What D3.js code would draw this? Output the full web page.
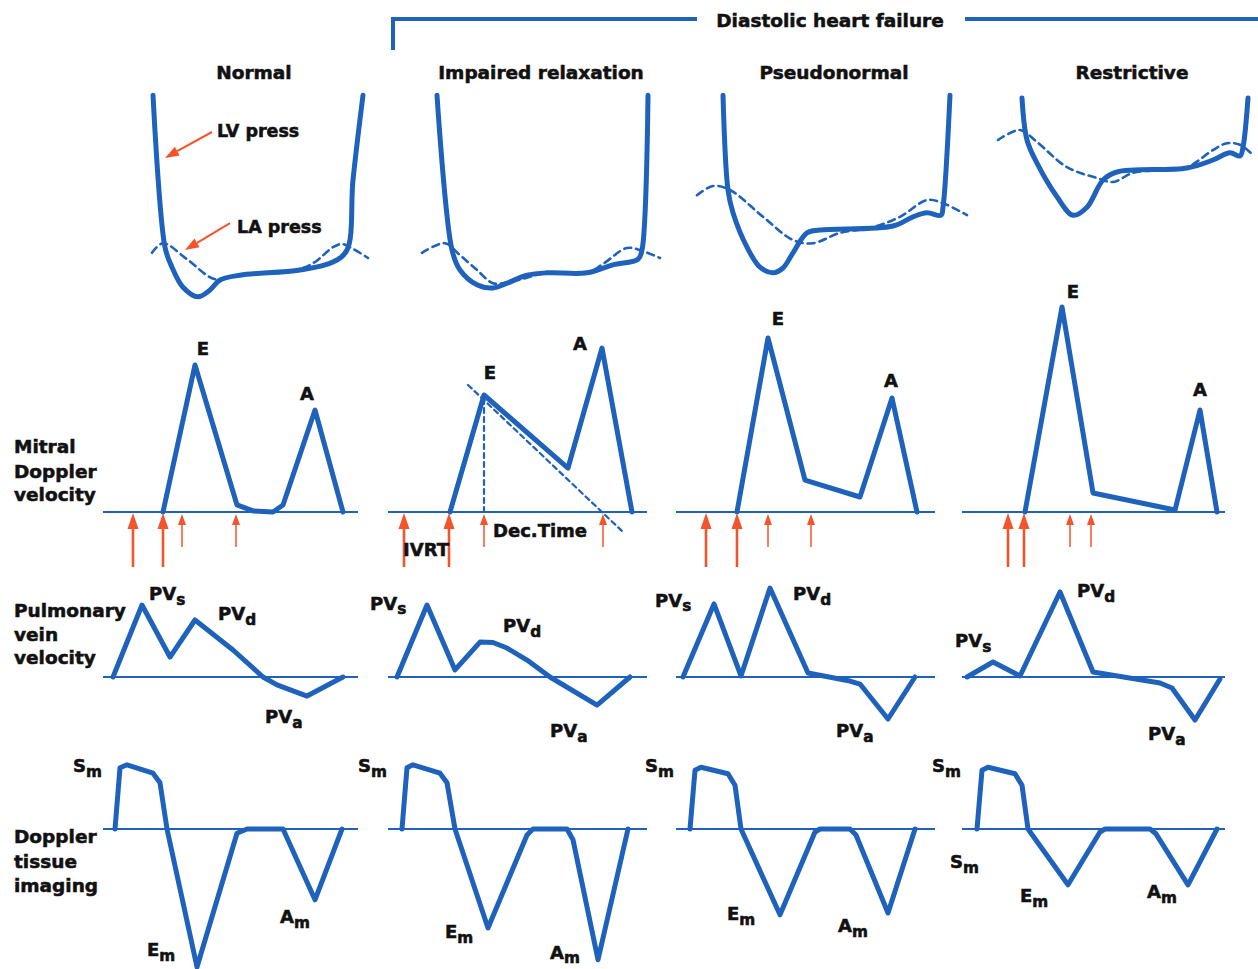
<!DOCTYPE html>
<html><head><meta charset="utf-8">
<script src="https://cdn.jsdelivr.net/npm/d3@7"></script>
<style>
body{margin:0;background:#fff}
text{font-family:"DejaVu Sans",sans-serif;font-weight:bold;fill:#111;stroke:#111;stroke-width:0.55px}
</style>
</head><body>
<svg id="c" width="1258" height="969"></svg>
<script>
// ---------------- DATA ----------------
const header = "Diastolic heart failure";
const columns = ["Normal", "Impaired relaxation", "Pseudonormal", "Restrictive"];
const rowLabels = [
  ["Mitral", "Doppler", "velocity"],
  ["Pulmonary", "vein", "velocity"],
  ["Doppler", "tissue", "imaging"]
];
// baseline time span per column (ms)
const baselineSpan = [[0, 1020], [0, 1036], [0, 1036], [0, 1052]];

// LV pressure [ms, mmHg]
const lvPressure = [
  [[200,25.6],[248,6.6],[276,4.1],[320,1.6],[380,0.4],[428,1.25],[468,2.5],[548,3.1],[788,3.75],[920,4.75],[976,6.25],[1000,15],[1040,25.6]],
  [[196,25.6],[256,6.25],[288,3.75],[356,1.9],[420,1.5],[476,2.1],[556,3.1],[636,3.4],[796,3.4],[900,4.4],[1000,5.1],[1016,6.25],[1040,25.6]],
  [[188,25.6],[208,13.75],[228,10.9],[284,6.6],[336,4.1],[388,3.4],[428,4.0],[468,5.9],[524,8.4],[576,8.75],[868,9.25],[948,10.4],[1004,10.9],[1060,10.6],[1068,11.6],[1096,25.6]],
  [[240,25.25],[260,20],[300,17.1],[380,12.9],[444,10.6],[500,11.6],[564,15],[620,16],[900,16.5],[1004,17.5],[1072,18.4],[1112,18],[1124,19.1],[1144,25.25]]
];
// LA pressure [ms, mmHg]
const laPressure = [
  [[196,5.9],[240,7.1],[336,5.1],[448,2.6],[548,3.1],[788,3.9],[848,4.75],[920,6.6],[956,7.0],[1000,6.4],[1060,5.25]],
  [[136,5.9],[228,7.1],[288,5.6],[356,3.75],[420,2.1],[488,2.25],[636,3.4],[796,3.4],[860,4.5],[956,6.5],[1020,6.1],[1088,5.25]],
  [[84,13.1],[148,14.25],[216,13.75],[348,10.4],[468,7.5],[548,7.1],[656,8.4],[776,9.0],[896,10.4],[1004,12.5],[1068,12.1],[1164,10.6]],
  [[144,20],[232,21.25],[300,19.75],[420,16.6],[540,15.25],[604,14.75],[684,15.9],[792,16.25],[900,16.6],[1004,18.75],[1060,19.6],[1112,19.4],[1164,18.1]]
];

// Mitral Doppler velocity [ms, cm/s]
const mitral = [
  [[240,0],[368,98],[536,4.7],[600,0.7],[680,0],[720,4.7],[848,68],[960,0]],
  [[248,0],[384,78],[720,29.3],[856,109.3],[976,0]],
  [[244,0],[368,116],[516,21.3],[736,10],[864,76],[964,0]],
  [[252,0],[400,136.7],[524,12.7],[852,1.3],[952,68],[1020,0]]
];
const mitralLabels = [
  [["E",400,104.7],["A",816,74.7]],
  [["E",408,88.7],["A",768,108]],
  [["E",408,124.7],["A",860,83.3]],
  [["E",444,142.7],["A",952,77.3]]
];
const bigArrows = [[120,240],[64,244],[120,244],[184,248]];
const smallArrows = [[316,532],[384,860],[368,540],[432,516]];
const decelSlope = [[320,84.7],[940,-13.3]];
const decelVertical = [[384,0],[384,78]];
const impairedNotes = [["IVRT",60,-29.3],["Dec.Time",420,-16.7]];

// Pulmonary vein velocity [ms, cm/s]
const pulmonary = [
  [[40,0],[156,48],[268,13.3],[368,38],[520,18],[640,0],[696,-5.3],[816,-12.7],[960,0]],
  [[36,0],[156,48],[268,4.7],[368,23.3],[420,23],[476,19.3],[556,11.3],[648,0],[836,-18.7],[968,0]],
  [[28,0],[152,48.7],[260,0.7],[376,59.3],[528,2.7],[696,-2.7],[736,-4.7],[848,-28],[956,0]],
  [[20,0],[124,10],[232,0.7],[392,56.7],[524,3.3],[792,-4],[840,-7.3],[932,-28.7],[1032,-1.3]]
];
const pvLabels = [
  [["PV","s",184,51.3],["PV","d",460,38],["PV","a",648,-30.7]],
  [["PV","s",-72,44.7],["PV","d",460,30],["PV","a",648,-40]],
  [["PV","s",-84,46.7],["PV","d",468,51.3],["PV","a",640,-40]],
  [["PV","s",-28,20],["PV","d",460,53.3],["PV","a",744,-42]]
];

// Doppler tissue imaging [ms, cm/s]
const dti = [
  [[48,0],[68,10.2],[96,10.7],[200,9.3],[228,7.7],[256,0],[376,-23],[536,-0.7],[576,0],[720,0],[848,-11.8],[956,0]],
  [[56,0],[76,10.2],[100,10.7],[208,9.3],[236,7.7],[268,0],[400,-16.5],[556,-1],[580,0],[716,0],[740,-1.8],[840,-21.8],[960,0]],
  [[56,0],[76,9.8],[100,10.3],[208,9.2],[236,7.3],[260,0],[416,-14.3],[556,-0.5],[576,0],[696,0],[720,-1],[848,-14],[956,0]],
  [[60,0],[80,9.8],[104,10.3],[212,9.2],[240,7.3],[264,0],[424,-9.3],[552,-0.5],[572,0],[752,0],[776,-0.8],[904,-9.3],[1020,0]]
];
const dtiLabels = [
  [["S","m",-120,9.5],["E","m",176,-21.2],["A","m",708,-15.7]],
  [["S","m",-120,9.5],["E","m",228,-18.2],["A","m",648,-21.6]],
  [["S","m",-124,9.5],["E","m",204,-15.2],["A","m",648,-17.2]],
  [["S","m",-120,9.5],["S","m",-48,-6.5],["E","m",232,-12.2],["A","m",740,-11.5]]
];

// pressure annotations (Normal column) [text, ms, mmHg, arrowFrom, arrowTo]
const pressNotes = [
  ["LV press", 456, 20.4, [436,21], [248,17.75]],
  ["LA press", 536, 8.4, [508,9.6], [328,6.25]]
];

// ---------------- LAYOUT / STYLE ----------------
const BLUE = "#1f62bb", RED = "#f2542d";
const colX0 = [103, 388, 676, 962];
const xs = colX0.map(x0 => d3.scaleLinear().domain([0, 1000]).range([x0, x0 + 250]));
const yP = d3.scaleLinear().domain([0, 25]).range([300, 100]);
const yM = d3.scaleLinear().domain([0, 100]).range([512, 362]);
const yPV = d3.scaleLinear().domain([0, 100]).range([677, 527]);
const yD = d3.scaleLinear().domain([0, 10]).range([829, 769]);

const svg = d3.select("#c");

// header bracket
svg.append("path")
  .attr("d", "M393,50 V19 H697 M965,19 H1258")
  .attr("fill", "none").attr("stroke", BLUE).attr("stroke-width", 4);
svg.append("text").attr("x", 830).attr("y", 27).attr("text-anchor", "middle")
  .attr("font-size", 18.5).text(header);

// column titles
const titleX = [254, 541, 834, 1132];
columns.forEach((c, i) => {
  svg.append("text").attr("x", titleX[i]).attr("y", 79).attr("text-anchor", "middle")
    .attr("font-size", 18.5).text(c);
});

// row labels
const rowLabelBase = [[453, 478, 501], [617, 641, 664], [843, 868, 892]];
rowLabels.forEach((lines, r) => {
  lines.forEach((l, k) => {
    svg.append("text").attr("x", 14).attr("y", rowLabelBase[r][k]).attr("font-size", 18.5).text(l);
  });
});

function drawLine(data, x, y, opts) {
  const gen = d3.line().x(d => x(d[0])).y(d => y(d[1]));
  if (opts.curve) gen.curve(opts.curve);
  svg.append("path").attr("d", gen(data)).attr("fill", "none")
    .attr("stroke", opts.color || BLUE).attr("stroke-width", opts.width)
    .attr("stroke-linejoin", "round").attr("stroke-linecap", "round")
    .attr("stroke-dasharray", opts.dash || null);
}
function baseline(i, y) {
  svg.append("line").attr("x1", xs[i](baselineSpan[i][0])).attr("x2", xs[i](baselineSpan[i][1]))
    .attr("y1", y(0)).attr("y2", y(0)).attr("stroke", BLUE).attr("stroke-width", 2.2);
}
function subLabel(x, y, main, sub, size) {
  const t = svg.append("text").attr("x", x).attr("y", y).attr("font-size", size || 18);
  t.append("tspan").text(main);
  t.append("tspan").attr("dy", 4.5).attr("font-size", (size || 18) * 0.85).text(sub);
}
function upArrow(x, yTail, yTip, big) {
  const hw = big ? 5.5 : 4, hl = big ? 16 : 11;
  svg.append("line").attr("x1", x).attr("x2", x).attr("y1", yTail).attr("y2", yTip + hl - 1)
    .attr("stroke", RED).attr("stroke-width", big ? 2.6 : 1.5);
  svg.append("path").attr("d", `M${x},${yTip} L${x - hw},${yTip + hl} L${x + hw},${yTip + hl} Z`).attr("fill", RED);
}
function pointer(x1, y1, x2, y2) {
  const ang = Math.atan2(y2 - y1, x2 - x1), hl = 14, hw = 5;
  const bx = x2 - hl * Math.cos(ang), by = y2 - hl * Math.sin(ang);
  svg.append("line").attr("x1", x1).attr("y1", y1).attr("x2", bx).attr("y2", by)
    .attr("stroke", RED).attr("stroke-width", 2);
  const px = -Math.sin(ang) * hw, py = Math.cos(ang) * hw;
  svg.append("path").attr("d", `M${x2},${y2} L${bx + px},${by + py} L${bx - px},${by - py} Z`).attr("fill", RED);
}

const smooth = d3.curveCatmullRom.alpha(0.5);
columns.forEach((c, i) => {
  const x = xs[i];
  // pressures
  drawLine(laPressure[i], x, yP, {width: 2.6, dash: "7,5", curve: smooth});
  drawLine(lvPressure[i], x, yP, {width: 5, curve: smooth});

  // mitral
  baseline(i, yM);
  drawLine(mitral[i], x, yM, {width: 5});
  mitralLabels[i].forEach(l => {
    svg.append("text").attr("x", x(l[1])).attr("y", yM(l[2])).attr("text-anchor", "middle")
      .attr("font-size", 18).text(l[0]);
  });
  upArrow(x(bigArrows[i][0]), 567, 513, true);
  upArrow(x(bigArrows[i][1]), 567, 513, true);
  upArrow(x(smallArrows[i][0]), 547, 514, false);
  upArrow(x(smallArrows[i][1]), 547, 514, false);

  // pulmonary vein
  baseline(i, yPV);
  drawLine(pulmonary[i], x, yPV, {width: 5});
  pvLabels[i].forEach(l => subLabel(x(l[2]), yPV(l[3]), l[0], l[1]));

  // DTI
  baseline(i, yD);
  drawLine(dti[i], x, yD, {width: 5});
  dtiLabels[i].forEach(l => subLabel(x(l[2]), yD(l[3]), l[0], l[1]));
});

// Impaired relaxation extras
drawLine(decelVertical, xs[1], yM, {width: 2.2, dash: "5,4"});
drawLine(decelSlope, xs[1], yM, {width: 2.2, dash: "5,4"});
impairedNotes.forEach(n => {
  svg.append("text").attr("x", xs[1](n[1])).attr("y", yM(n[2])).attr("font-size", 18).text(n[0]);
});

// pressure annotations
pressNotes.forEach(n => {
  svg.append("text").attr("x", xs[0](n[1])).attr("y", yP(n[2])).attr("font-size", 17.5).text(n[0]);
  pointer(xs[0](n[3][0]), yP(n[3][1]), xs[0](n[4][0]), yP(n[4][1]));
});
</script>
</body></html>
